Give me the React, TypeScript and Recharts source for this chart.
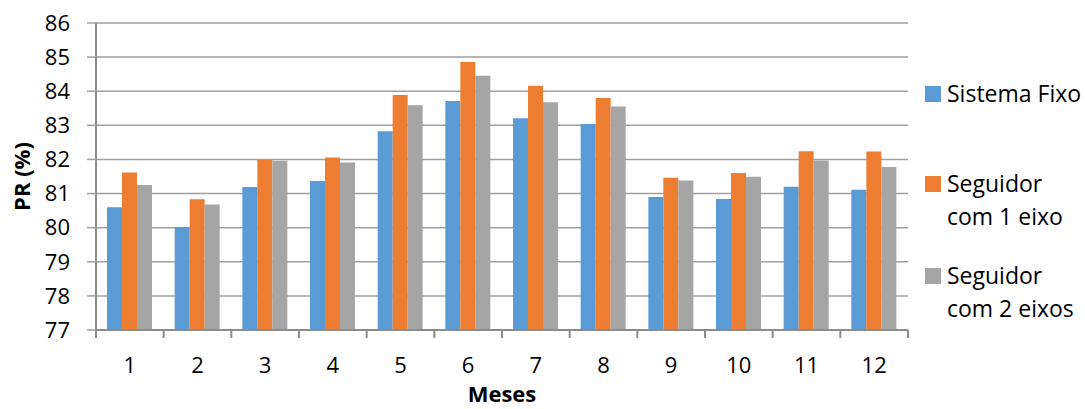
import React from "react";
import { BarChart, Bar, XAxis, YAxis, CartesianGrid, Label } from "recharts";

const meses = ["1", "2", "3", "4", "5", "6", "7", "8", "9", "10", "11", "12"];
const sistemaFixo = [80.6, 80.02, 81.19, 81.37, 82.83, 83.71, 83.21, 83.04, 80.9, 80.84, 81.2, 81.11];
const seguidor1 = [81.62, 80.83, 81.99, 82.06, 83.89, 84.86, 84.16, 83.8, 81.46, 81.6, 82.24, 82.23];
const seguidor2 = [81.25, 80.68, 81.96, 81.91, 83.59, 84.45, 83.68, 83.55, 81.38, 81.49, 81.97, 81.78];
const yTicks = [77, 78, 79, 80, 81, 82, 83, 84, 85, 86];

const series = [
  { key: "fixo", name: "Sistema Fixo", color: "#5b9bd5" },
  { key: "um", name: "Seguidor com 1 eixo", color: "#ed7d31" },
  { key: "dois", name: "Seguidor com 2 eixos", color: "#a5a5a5" },
];

const data = meses.map((m, i) => ({
  mes: m,
  fixo: sistemaFixo[i],
  um: seguidor1[i],
  dois: seguidor2[i],
}));

const FONT = "'Open Sans', sans-serif";
const WIDTH = 1085;
const HEIGHT = 409;
const MARGIN = { top: 23, right: 177, left: 0, bottom: 0 };
const Y_AXIS_W = 96;
const BAND = (WIDTH - MARGIN.right - MARGIN.left - Y_AXIS_W) / meses.length;

// x ticks sit between categories, like the spreadsheet default
const MesTick = (props: any) => {
  const { x, y, payload, index } = props;
  const left = x - BAND / 2;
  return (
    <g>
      <line x1={left} x2={left} y1={y} y2={y + 8} stroke="#8c8c8c" strokeWidth={2} />
      {index === meses.length - 1 && (
        <line x1={x + BAND / 2} x2={x + BAND / 2} y1={y} y2={y + 8} stroke="#8c8c8c" strokeWidth={2} />
      )}
      <text x={x} y={y + 43} textAnchor="middle" fill="#000" fontSize={22} fontFamily={FONT}>
        {payload.value}
      </text>
    </g>
  );
};

// top gap before each legend entry
const legendGaps = [77, 57, 26];

const LegendBox = () => (
  <div
    style={{
      position: "absolute",
      left: 925,
      top: 0,
      width: 160,
      fontFamily: FONT,
      fontSize: 23,
      color: "#000",
      lineHeight: "33px",
    }}
  >
    {series.map((s, i) => (
      <div key={s.key} style={{ display: "flex", alignItems: "flex-start", marginTop: legendGaps[i] }}>
        <span
          style={{
            display: "inline-block",
            width: 16,
            height: 16,
            background: s.color,
            marginTop: 9,
            marginRight: 6,
            flexShrink: 0,
          }}
        />
        <span style={{ width: 138 }}>{s.name}</span>
      </div>
    ))}
  </div>
);

export default function App() {
  return (
    <div style={{ position: "absolute", left: 0, top: 0, width: WIDTH, height: HEIGHT, background: "#fff" }}>
      <BarChart width={WIDTH} height={HEIGHT} data={data} margin={MARGIN} barGap={0} barSize={15}>
        <CartesianGrid vertical={false} stroke="#a0a0a0" strokeWidth={1.5} />
        <XAxis
          dataKey="mes"
          height={79}
          axisLine={{ stroke: "#8c8c8c", strokeWidth: 2 }}
          tickLine={false}
          tickSize={0}
          tickMargin={0}
          tick={<MesTick />}
          interval={0}
        >
          <Label value="Meses" position="center" dy={25} fill="#000" fontSize={22} fontWeight="bold" fontFamily={FONT} />
        </XAxis>
        <YAxis
          width={Y_AXIS_W}
          domain={[77, 86]}
          ticks={yTicks}
          interval={0}
          allowDataOverflow
          axisLine={{ stroke: "#8c8c8c", strokeWidth: 2 }}
          tickLine={{ stroke: "#a0a0a0", strokeWidth: 1.5 }}
          tickSize={9}
          tickMargin={17}
          tick={{ fill: "#000", fontSize: 22, fontFamily: FONT }}
        >
          <Label value="PR (%)" angle={-90} position="center" dx={-26} fill="#000" fontSize={22} fontWeight="bold" fontFamily={FONT} />
        </YAxis>
        {series.map((s) => (
          <Bar key={s.key} dataKey={s.key} name={s.name} fill={s.color} isAnimationActive={false} />
        ))}
      </BarChart>
      <LegendBox />
    </div>
  );
}
